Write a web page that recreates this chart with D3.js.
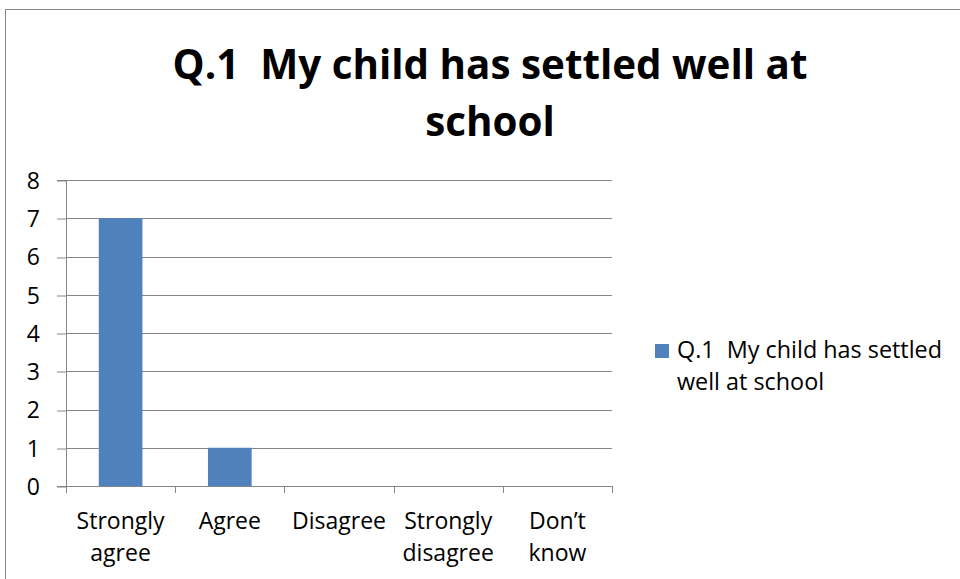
<!DOCTYPE html>
<html><head><meta charset="utf-8">
<script src="https://cdn.jsdelivr.net/npm/d3@7"></script>
<style>body{margin:0;background:#fff}svg{display:block}text{font-family:"Open Sans",sans-serif;white-space:pre}</style>
</head><body>
<svg id="c" width="960" height="579"></svg>
<script>
const titleLines = ["Q.1  My child has settled well at", "school"];
const categories = [["Strongly","agree"],["Agree"],["Disagree"],["Strongly","disagree"],["Don\u2019t","know"]];
const values = [7, 1, 0, 0, 0];
const yTicks = [0,1,2,3,4,5,6,7,8];
const legendLines = ["Q.1  My child has settled", "well at school"];

const svg = d3.select("#c");
svg.append("rect").attr("x",5.5).attr("y",9.5).attr("width",1000).attr("height",1000)
  .attr("fill","#fff").attr("stroke","#868686").attr("stroke-width",1);

// fit font size so a sample string has a target width
function fit(str, target, weight){
  const t = svg.append("text").attr("font-size",20).attr("font-weight",weight||"normal").text(str);
  const w = t.node().getComputedTextLength(); t.remove();
  return 20*target/w;
}
const fsLabel = fit("Strongly", 88);
const fsTitle = fit(titleLines[0], 635, "bold");
const fsLegend = fit(legendLines[0], 265);

const x0=66, x1=612, yTop=180, yBot=486;
const x = d3.scaleBand().domain(categories.map((d,i)=>i)).range([x0,x1]).paddingInner(0.6).paddingOuter(0.3);
const y = d3.scaleLinear().domain([0,8]).range([yBot,yTop]);

const ya = d3.axisLeft(y).tickValues(yTicks).tickSize(9).tickFormat(d3.format("d"));
const gy = svg.append("g").attr("transform",`translate(${x0},0)`).call(ya);
gy.select(".domain").attr("stroke","#868686");
gy.selectAll(".tick line").attr("stroke","#868686");
gy.selectAll(".tick text").attr("font-size",fsLabel).attr("fill","#000").attr("x",-26).attr("dy","0.36em");
svg.append("g").selectAll("line").data(yTicks.filter(d=>d>0)).join("line")
  .attr("x1",x0).attr("x2",x1).attr("y1",d=>Math.round(y(d))+0.5).attr("y2",d=>Math.round(y(d))+0.5)
  .attr("stroke","#868686").attr("stroke-width",1);
gy.selectAll(".tick line").attr("transform",d=>`translate(0,${Math.round(y(d))+0.5-y(d)})`);

svg.append("g").selectAll("rect").data(values).join("rect")
  .attr("x",(d,i)=>x(i)).attr("width",x.bandwidth())
  .attr("y",d=>y(d)).attr("height",d=>yBot-y(d)).attr("fill","#4F81BD");

const band = (x1-x0)/categories.length;
const xa = svg.append("g");
xa.append("line").attr("x1",x0).attr("x2",x1).attr("y1",yBot+0.5).attr("y2",yBot+0.5).attr("stroke","#868686");
xa.selectAll("line.t").data(d3.range(categories.length+1)).join("line").attr("class","t")
  .attr("x1",i=>Math.round(x0+i*band)+0.5).attr("x2",i=>Math.round(x0+i*band)+0.5)
  .attr("y1",yBot).attr("y2",yBot+7).attr("stroke","#868686");
categories.forEach((lines,i)=>{
  const t = xa.append("text").attr("text-anchor","middle").attr("font-size",fsLabel).attr("fill","#000");
  lines.forEach((l,j)=>t.append("tspan").attr("x",x(i)+x.bandwidth()/2).attr("y",529+j*32).text(l));
});

titleLines.forEach((l,j)=>svg.append("text").attr("x",490).attr("y",79+j*57)
  .attr("text-anchor","middle").attr("font-size",fsTitle).attr("font-weight","bold").attr("fill","#000").text(l));

svg.append("rect").attr("x",655).attr("y",344).attr("width",14).attr("height",14).attr("fill","#4F81BD");
legendLines.forEach((l,j)=>svg.append("text").attr("x",677).attr("y",358+j*32)
  .attr("font-size",fsLegend).attr("fill","#000").text(l));
</script>
</body></html>
